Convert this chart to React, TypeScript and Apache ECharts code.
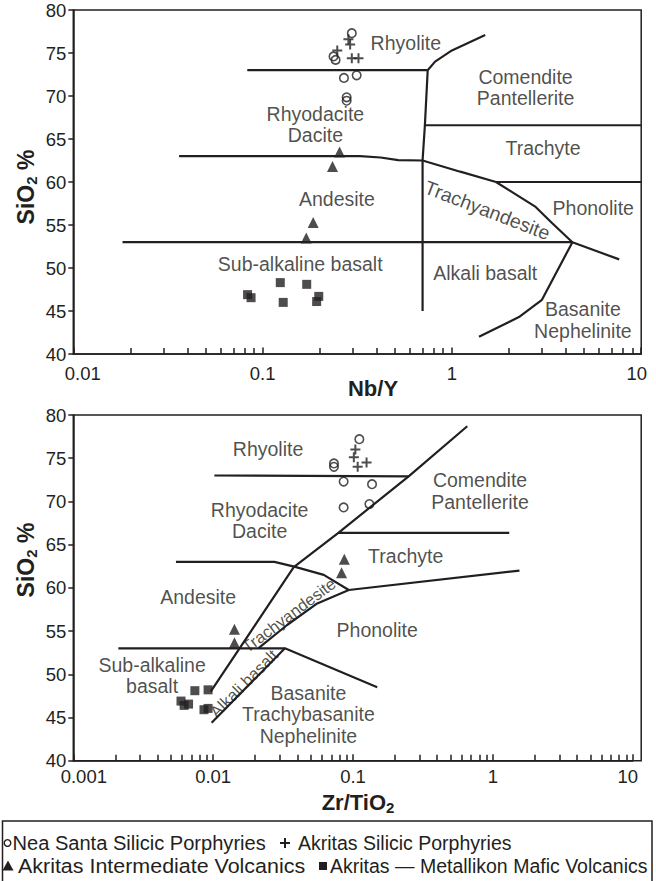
import React, { useEffect, useRef } from "react";
import * as echarts from "echarts";

// ---------- Panel A: Nb/Y vs SiO2 ----------
const A_NEA_SANTA = [[0.296, 77.3], [0.237, 74.6], [0.243, 74.2], [0.269, 72.1], [0.314, 72.4], [0.278, 69.85], [0.278, 69.45]];
const A_AKRITAS_SILICIC = [[0.248, 75.3], [0.284, 76.6], [0.29, 76.0], [0.296, 74.4], [0.321, 74.4]];
const A_INTERMEDIATE = [[0.255, 63.5], [0.234, 61.8], [0.185, 55.3], [0.17, 53.5]];
const A_MAFIC = [[0.0833, 46.9], [0.0869, 46.55], [0.124, 48.3], [0.1285, 46.0], [0.171, 48.1], [0.198, 46.7], [0.193, 46.1]];

const A_BOUNDARIES = [
  [[0.083, 73], [0.745, 73]],
  [[0.745, 73], [0.815, 74], [1.0, 75.3], [1.5, 77.1]],
  [[0.745, 73], [0.72, 66.6], [0.7, 62.5], [0.7, 45]],
  [[0.72, 66.6], [10, 66.6]],
  [[1.71, 60], [10, 60]],
  [[0.0362, 63], [0.327, 63], [0.42, 62.85], [0.52, 62.55], [0.7, 62.5], [1.107, 61.2], [1.71, 60], [2.77, 57.1], [3.39, 55.2], [4.33, 53], [7.65, 51]],
  [[0.0182, 53], [4.33, 53]],
  [[4.33, 53], [2.99, 46.3], [2.26, 44.3], [1.39, 42]],
];

// [x, y, text, rotation(deg), fontSize]
const A_FIELDS: any[] = [
  [0.571, 76.2, "Rhyolite", 0],
  [2.45, 71.0, "Comendite\nPantellerite", 0],
  [0.19, 66.7, "Rhyodacite\nDacite", 0],
  [3.03, 63.92, "Trachyte", 0],
  [0.247, 58.0, "Andesite", 0],
  [1.54, 56.74, "Trachyandesite", -21],
  [5.58, 56.94, "Phonolite", 0],
  [0.158, 50.43, "Sub-alkaline basalt", 0],
  [1.5, 49.45, "Alkali basalt", 0],
  [4.92, 43.93, "Basanite\nNephelinite", 0],
];

// ---------- Panel B: Zr/TiO2 vs SiO2 ----------
const B_NEA_SANTA = [[0.111, 77.2], [0.0731, 74.4], [0.0731, 74.0], [0.0857, 72.3], [0.1368, 72.0], [0.0857, 69.3], [0.131, 69.7]];
const B_AKRITAS_SILICIC = [[0.104, 76.0], [0.1014, 75.1], [0.125, 74.5], [0.108, 74.0]];
const B_INTERMEDIATE = [[0.0867, 63.3], [0.0828, 61.75], [0.0142, 55.2], [0.0142, 53.65]];
const B_MAFIC = [[0.00589, 46.9], [0.0062, 46.4], [0.00667, 46.55], [0.0074, 48.1], [0.0092, 48.2], [0.0086, 45.9], [0.0092, 46.05]];

const B_BOUNDARIES = [
  [[0.0102, 73], [0.25, 72.9]],
  [[0.0096, 48], [0.0377, 62.4], [0.079, 66.4], [0.25, 72.9], [0.656, 78.7]],
  [[0.00975, 44.4], [0.0326, 53]],
  [[0.0021, 53], [0.0326, 53], [0.149, 48.5]],
  [[0.021, 53], [0.0338, 55.7], [0.0555, 58.2], [0.0933, 59.75], [1.55, 62]],
  [[0.00542, 63], [0.0274, 63], [0.038, 62.45], [0.0618, 61.5], [0.0933, 59.75]],
  [[0.079, 66.35], [1.31, 66.35]],
];

const B_FIELDS: any[] = [
  [0.0247, 76.03, "Rhyolite", 0],
  [0.81, 71.2, "Comendite\nPantellerite", 0],
  [0.0215, 67.8, "Rhyodacite\nDacite", 0],
  [0.238, 63.72, "Trachyte", 0],
  [0.00781, 58.9, "Andesite", 0],
  [0.0347, 56.85, "Trachyandesite", 37, 16.5],
  [0.149, 55.12, "Phonolite", 0],
  [0.00366, 49.85, "Sub-alkaline\nbasalt", 0],
  [0.0165, 48.95, "Alkali basalt", 45, 16.5],
  [0.048, 45.36, "Basanite\nTrachybasanite\nNephelinite", 0],
];

const LEGEND_ITEMS = [
  "Nea Santa Silicic Porphyries",
  "Akritas Silicic Porphyries",
  "Akritas Intermediate Volcanics",
  "Akritas \u2014 Metallikon Mafic Volcanics",
];

// axis structure
const A_X_RANGE = [0.01, 10];
const B_X_RANGE = [0.001, 10];
const Y_MIN = 40;
const Y_MAX = 80;
const Y_STEP = 5;

const FONT = '"Liberation Sans", Arial, Helvetica, sans-serif';
const INK = "#231f20";
const PLUS_PATH = "path://M4,0h2v4h4v2h-4v4h-2v-4h-4v-2h4z";

function fmtLog(v: number) {
  return String(Number(v.toPrecision(3)));
}

function xAxisCfg(grid: number, range: number[], margin: number, padFirst: number, padLast: number) {
  const lab = { fontSize: 18.5, color: INK, fontFamily: FONT };
  return {
    type: "log",
    logBase: 10,
    gridIndex: grid,
    min: range[0],
    max: range[1],
    axisLine: { show: true, lineStyle: { color: INK, width: 1.5 } },
    axisTick: { show: true, inside: true, length: 6.5, lineStyle: { color: INK, width: 1.5 } },
    minorTick: { show: true, splitNumber: 9, length: 6, lineStyle: { color: INK, width: 1.5 } },
    splitLine: { show: false },
    minorSplitLine: { show: false },
    axisLabel: {
      ...lab,
      margin,
      formatter: (v: number) => {
        const s = fmtLog(v);
        if (Math.abs(v - range[0]) < range[0] * 1e-6) return `{first|${s}}`;
        if (Math.abs(v - range[1]) < range[1] * 1e-6) return `{last|${s}}`;
        return s;
      },
      rich: {
        first: { ...lab, padding: [0, 0, 0, padFirst] },
        last: { ...lab, padding: [0, padLast, 0, 0] },
      },
    },
  };
}

function yAxisCfg(grid: number) {
  return {
    type: "value",
    gridIndex: grid,
    min: Y_MIN,
    max: Y_MAX,
    interval: Y_STEP,
    axisLine: { show: true, lineStyle: { color: INK, width: 1.5 } },
    axisTick: { show: true, inside: false, length: 5, lineStyle: { color: INK, width: 1.5 } },
    splitLine: { show: false },
    axisLabel: { fontSize: 18.5, color: INK, fontFamily: FONT, margin: 7 },
  };
}

function boundarySeries(idx: number, lines: number[][][]) {
  return lines.map((pts) => ({
    type: "line",
    xAxisIndex: idx,
    yAxisIndex: idx,
    data: pts,
    symbol: "none",
    silent: true,
    lineStyle: { color: INK, width: 2.2 },
    z: 2,
  }));
}

function pointSeries(idx: number, nea: number[][], ak: number[][], inter: number[][], mafic: number[][]) {
  return [
    {
      type: "scatter", xAxisIndex: idx, yAxisIndex: idx, data: nea, symbol: "circle", symbolSize: 8.5,
      itemStyle: { color: "rgba(0,0,0,0)", borderColor: INK, borderWidth: 1.6 }, z: 4,
    },
    {
      type: "scatter", xAxisIndex: idx, yAxisIndex: idx, data: ak, symbol: PLUS_PATH, symbolSize: 10,
      itemStyle: { color: INK }, z: 4,
    },
    {
      type: "scatter", xAxisIndex: idx, yAxisIndex: idx, data: inter, symbol: "triangle", symbolSize: 11,
      itemStyle: { color: INK }, z: 4,
    },
    {
      type: "scatter", xAxisIndex: idx, yAxisIndex: idx, data: mafic, symbol: "rect", symbolSize: 9,
      itemStyle: { color: INK }, z: 4,
    },
  ];
}

function fieldSeries(idx: number, fields: any[]) {
  return {
    type: "scatter",
    xAxisIndex: idx,
    yAxisIndex: idx,
    symbol: "circle",
    symbolSize: 1,
    silent: true,
    itemStyle: { color: "rgba(0,0,0,0)" },
    z: 3,
    label: {
      show: true,
      position: "inside",
      color: INK,
      fontFamily: FONT,
      fontSize: 19.5,
      lineHeight: 21.5,
      align: "center",
      verticalAlign: "middle",
    },
    data: fields.map((f) => ({
      value: [f[0], f[1]],
      label: { formatter: f[2], rotate: f[3] || 0, fontSize: f[4] || 19.5, lineHeight: (f[4] || 19.5) + 2 },
    })),
  };
}

const G1 = { left: 73.3, top: 10, width: 567.9, height: 344 };
const G2 = { left: 73.3, top: 415, width: 559.4, height: 345.7 };
const FRAME2_RIGHT = 641.2;

function nameText(x: number, y: number, main: string, sub: string, rest: string, rot: number, size: number) {
  return {
    type: "text",
    x,
    y,
    rotation: rot,
    style: {
      text: `{a|${main}}{b|${sub}}{a|${rest}}`,
      align: "center",
      verticalAlign: "middle",
      fill: INK,
      rich: {
        a: { fontSize: size, fontWeight: "bold", fontFamily: FONT, fill: INK, lineHeight: size + 3, verticalAlign: "middle" },
        b: { fontSize: Math.round(size * 0.66), fontWeight: "bold", fontFamily: FONT, fill: INK, lineHeight: 12, verticalAlign: "bottom" },
      },
    },
  };
}

export default function App() {
  const ref = useRef<HTMLDivElement>(null);
  useEffect(() => {
    if (!ref.current) return;
    const chart = echarts.init(ref.current, undefined, { renderer: "svg" });
    const legendY1 = 843;
    const legendY2 = 866;
    const legendText = (x: number, y: number, t: string, sx = 1) => ({
      type: "text",
      x,
      y,
      scaleX: sx,
      style: { text: t, fontSize: 19.5, fontFamily: FONT, fill: INK, align: "left", verticalAlign: "middle" },
    });
    chart.setOption({
      animation: false,
      backgroundColor: "#ffffff",
      grid: [
        { ...G1, containLabel: false },
        { ...G2, containLabel: false },
      ],
      xAxis: [xAxisCfg(0, A_X_RANGE, 10, 19, 9), xAxisCfg(1, B_X_RANGE, 6, 21, 10)],
      yAxis: [yAxisCfg(0), yAxisCfg(1)],
      series: [
        ...boundarySeries(0, A_BOUNDARIES),
        ...boundarySeries(1, B_BOUNDARIES),
        fieldSeries(0, A_FIELDS),
        fieldSeries(1, B_FIELDS),
        ...pointSeries(0, A_NEA_SANTA, A_AKRITAS_SILICIC, A_INTERMEDIATE, A_MAFIC),
        ...pointSeries(1, B_NEA_SANTA, B_AKRITAS_SILICIC, B_INTERMEDIATE, B_MAFIC),
      ],
      graphic: [
        {
          type: "rect",
          shape: { x: G1.left, y: G1.top, width: G1.width, height: G1.height },
          style: { fill: "none", stroke: INK, lineWidth: 1.5 },
          silent: true,
          z: -1,
        },
        {
          type: "rect",
          shape: { x: G2.left, y: G2.top, width: FRAME2_RIGHT - G2.left, height: G2.height },
          style: { fill: "none", stroke: INK, lineWidth: 1.5 },
          silent: true,
          z: -1,
        },
        nameText(26, 187, "SiO", "2", " %", Math.PI / 2, 23),
        nameText(26, 560, "SiO", "2", " %", Math.PI / 2, 23),
        {
          type: "text",
          x: 373,
          y: 388,
          style: { text: "Nb/Y", fontSize: 22, fontWeight: "bold", fontFamily: FONT, fill: INK, align: "center", verticalAlign: "middle" },
        },
        nameText(358, 802, "Zr/TiO", "2", "", 0, 22),
        {
          type: "rect",
          shape: { x: 2.5, y: 821, width: 649.5, height: 70 },
          style: { fill: "none", stroke: INK, lineWidth: 1.5 },
          silent: true,
        },
        {
          type: "circle",
          shape: { cx: 7.5, cy: legendY1, r: 3.3 },
          style: { fill: "none", stroke: INK, lineWidth: 1.4 },
        },
        legendText(12.5, legendY1, LEGEND_ITEMS[0], 1.03),
        {
          type: "polygon",
          shape: { points: [[284, legendY1 - 5], [286, legendY1 - 5], [286, legendY1 - 1], [290, legendY1 - 1], [290, legendY1 + 1], [286, legendY1 + 1], [286, legendY1 + 5], [284, legendY1 + 5], [284, legendY1 + 1], [280, legendY1 + 1], [280, legendY1 - 1], [284, legendY1 - 1]] },
          style: { fill: INK },
        },
        legendText(298, legendY1, LEGEND_ITEMS[1]),
        {
          type: "polygon",
          shape: { points: [[8, legendY2 - 5.5], [13.5, legendY2 + 4.5], [2.5, legendY2 + 4.5]] },
          style: { fill: INK },
        },
        legendText(18, legendY2, LEGEND_ITEMS[2], 1.1),
        {
          type: "rect",
          shape: { x: 319, y: legendY2 - 4, width: 8, height: 8 },
          style: { fill: INK },
        },
        legendText(330, legendY2, LEGEND_ITEMS[3]),
      ],
    });
    return () => chart.dispose();
  }, []);
  return (
    <div
      ref={ref}
      style={{ position: "fixed", left: 0, top: 0, width: 656, height: 881, background: "#fff" }}
    />
  );
}
